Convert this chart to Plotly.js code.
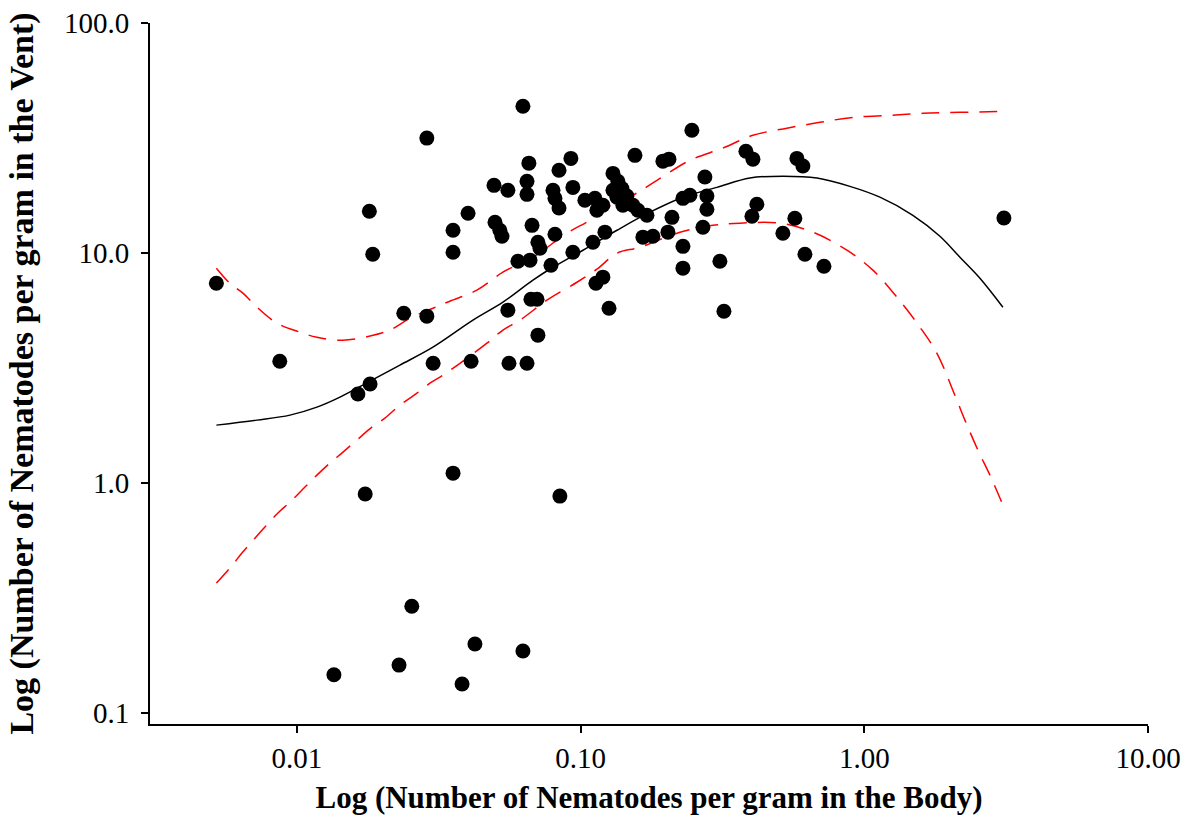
<!DOCTYPE html>
<html>
<head>
<meta charset="utf-8">
<script src="https://cdn.plot.ly/plotly-3.0.1.min.js"></script>
<style>
html,body{margin:0;padding:0;background:#ffffff;}
#chart{width:1190px;height:819px;}
</style>
</head>
<body>
<div id="chart"></div>
<script>
// Observed samples: nematodes per gram in the body (x) and in the vent (y)
const bodyCounts = [
  0.0052, 0.0087, 0.0135, 0.0164, 0.0174, 0.0180, 0.0181, 0.0185, 0.0229, 0.0238,
  0.0254, 0.0287, 0.0287, 0.0302, 0.0355, 0.0355, 0.0355, 0.0382, 0.0401, 0.0411,
  0.0424, 0.0495, 0.0499, 0.0519, 0.0528, 0.0554, 0.0554, 0.0559, 0.0601, 0.0626,
  0.0626, 0.0647, 0.0647, 0.0647, 0.0657, 0.0663, 0.0674, 0.0668, 0.0702, 0.0707,
  0.0707, 0.0719, 0.0786, 0.0799, 0.0812, 0.0839, 0.0839, 0.0812, 0.0845, 0.0924,
  0.0939, 0.0939, 0.1035, 0.1105, 0.1123, 0.1132, 0.1141, 0.1198, 0.1218, 0.1198,
  0.1259, 0.1300, 0.1300, 0.1353, 0.1398, 0.1343, 0.1456, 0.1409, 0.1529, 0.1592,
  0.1713, 0.1554, 0.1658, 0.1798, 0.1950, 0.2048, 0.2031, 0.2099, 0.2294, 0.2428,
  0.2294, 0.2294, 0.2467, 0.2742, 0.2787, 0.2787, 0.2698, 0.3097, 0.3200, 0.3825,
  0.4049, 0.4017, 0.4180, 0.5164, 0.5690, 0.5785, 0.6074, 0.6175, 0.7205, 3.105
];
const ventCounts = [
  7.40, 3.39, 0.147, 2.44, 0.897, 15.2, 2.70, 9.89, 0.162, 5.48,
  0.292, 31.6, 5.32, 3.32, 12.57, 10.09, 1.106, 0.134, 14.9, 3.39,
  0.200, 19.7, 13.6, 12.57, 11.84, 18.76, 5.65, 3.32, 9.22, 43.5,
  0.1865, 3.32, 20.5, 18.0, 24.6, 9.32, 13.2, 6.30, 6.30, 4.40,
  11.15, 10.5, 8.86, 18.76, 17.3, 15.7, 22.9, 12.08, 0.879, 25.8,
  19.3, 10.09, 16.97, 11.15, 17.3, 7.40, 15.36, 7.86, 12.33, 16.15,
  5.76, 22.2, 18.76, 20.5, 19.1, 17.5, 17.7, 16.15, 16.15, 15.36,
  14.6, 26.6, 11.73, 11.84, 25.1, 25.6, 12.33, 14.3, 17.3, 17.84,
  10.7, 8.60, 34.2, 21.4, 17.7, 15.5, 12.96, 9.22, 5.59, 27.7,
  25.6, 14.47, 16.3, 12.2, 14.18, 25.8, 23.9, 9.89, 8.77, 14.2
];

// Fitted curve (solid black)
const fitX = [0.0052, 0.00723, 0.00945, 0.01176, 0.01418, 0.0181, 0.02307, 0.03016, 0.04173, 0.05322,
  0.0679, 0.07985, 0.1019, 0.1343, 0.1755, 0.2294, 0.3022, 0.3951, 0.5164, 0.6808,
  0.8896, 1.135, 1.483, 1.847, 2.173, 2.556, 3.08];
const fitY = [1.788, 1.88, 1.976, 2.14, 2.366, 2.777, 3.26, 3.90, 5.11, 6.12,
  7.63, 8.68, 10.29, 12.57, 15.06, 17.5, 19.3, 21.2, 21.6, 21.2,
  19.5, 17.5, 14.6, 11.84, 9.60, 7.78, 5.82];

// Upper confidence band (red dashed)
const upperX = [0.0052, 0.0058, 0.00645, 0.00723, 0.0085, 0.01025, 0.01176, 0.01453, 0.0181, 0.02128,
  0.025, 0.03016, 0.03461, 0.04309, 0.05322, 0.0679, 0.08946, 0.1078, 0.1239, 0.1529,
  0.1858, 0.2428, 0.3174, 0.4049, 0.5334, 0.6975, 0.9116, 1.231, 1.609, 2.173, 3.08];
const upperY = [8.60, 7.40, 6.70, 5.82, 4.96, 4.53, 4.31, 4.18, 4.36, 4.63,
  5.21, 5.76, 6.18, 6.90, 8.26, 9.60, 12.2, 13.9, 15.7, 17.84,
  20.7, 25.3, 28.6, 32.5, 34.9, 37.0, 38.9, 39.7, 40.5, 40.9, 41.3];

// Lower confidence band (red dashed)
const lowerX = [0.0052, 0.0058, 0.0064, 0.00711, 0.00771, 0.00857, 0.00945, 0.01067, 0.01176, 0.01307,
  0.01453, 0.0164, 0.01838, 0.02042, 0.02307, 0.02649, 0.02943, 0.0327, 0.03755, 0.04674,
  0.05322, 0.0611, 0.07605, 0.09705, 0.1141, 0.1343, 0.1618, 0.2239, 0.2926, 0.3643,
  0.504, 0.659, 0.8684, 1.072, 1.303, 1.570, 1.803, 2.086, 2.263, 2.514, 2.772, 3.08];
const lowerY = [0.368, 0.428, 0.497, 0.577, 0.645, 0.742, 0.828, 0.962, 1.084, 1.223,
  1.365, 1.554, 1.752, 1.918, 2.184, 2.463, 2.72, 2.949, 3.32, 4.06,
  4.63, 5.11, 6.24, 7.47, 8.51, 9.99, 10.6, 12.33, 13.2, 13.49,
  13.49, 12.33, 10.29, 8.43, 6.43, 4.77, 3.67, 2.41, 1.88, 1.393, 1.084, 0.803];

const xTickVals = [0.01, 0.1, 1, 10];
const xTickText = ["0.01", "0.10", "1.00", "10.00"];
const yTickVals = [0.1, 1, 10, 100];
const yTickText = ["0.1", "1.0", "10.0", "100.0"];

const xTitle = "Log (Number of Nematodes per gram in the Body)";
const yTitle = "Log (Number of Nematodes per gram in the Vent)";

const serif = "Liberation Serif, Times New Roman, serif";

const traces = [
  {x: upperX, y: upperY, type: "scatter", mode: "lines",
   line: {color: "#ff0000", width: 1.5, dash: "18px,11px", shape: "spline"}, hoverinfo: "skip"},
  {x: lowerX, y: lowerY, type: "scatter", mode: "lines",
   line: {color: "#ff0000", width: 1.5, dash: "18px,11px", shape: "spline"}, hoverinfo: "skip"},
  {x: fitX, y: fitY, type: "scatter", mode: "lines",
   line: {color: "#000000", width: 1.5, shape: "spline"}, hoverinfo: "skip"},
  {x: bodyCounts, y: ventCounts, type: "scatter", mode: "markers",
   marker: {color: "#000000", size: 15, line: {width: 0}}}
];

const axisCommon = {
  type: "log",
  showgrid: false,
  zeroline: false,
  showline: true,
  linecolor: "#000000",
  linewidth: 2,
  mirror: false,
  ticks: "outside",
  ticklen: 7,
  tickwidth: 2,
  tickcolor: "#000000",
  tickfont: {family: serif, size: 29, color: "#000000"}
};

const layout = {
  width: 1190,
  height: 819,
  paper_bgcolor: "#ffffff",
  plot_bgcolor: "#ffffff",
  showlegend: false,
  margin: {l: 150, r: 42, t: 23, b: 95},
  xaxis: Object.assign({}, axisCommon, {
    range: [-2.518, 1],
    tickvals: xTickVals,
    ticktext: xTickText,
    title: {text: "<b>" + xTitle + "</b>", font: {family: serif, size: 31, color: "#000000"}, standoff: 14}
  }),
  yaxis: Object.assign({}, axisCommon, {
    range: [-1.0465, 2],
    tickvals: yTickVals,
    ticktext: yTickText,
    ticklabelstandoff: 6,
    title: {text: "<b>" + yTitle + "</b>", font: {family: serif, size: 34, color: "#000000"}, standoff: 20}
  })
};

Plotly.newPlot("chart", traces, layout, {displayModeBar: false, staticPlot: true});
</script>
</body>
</html>
